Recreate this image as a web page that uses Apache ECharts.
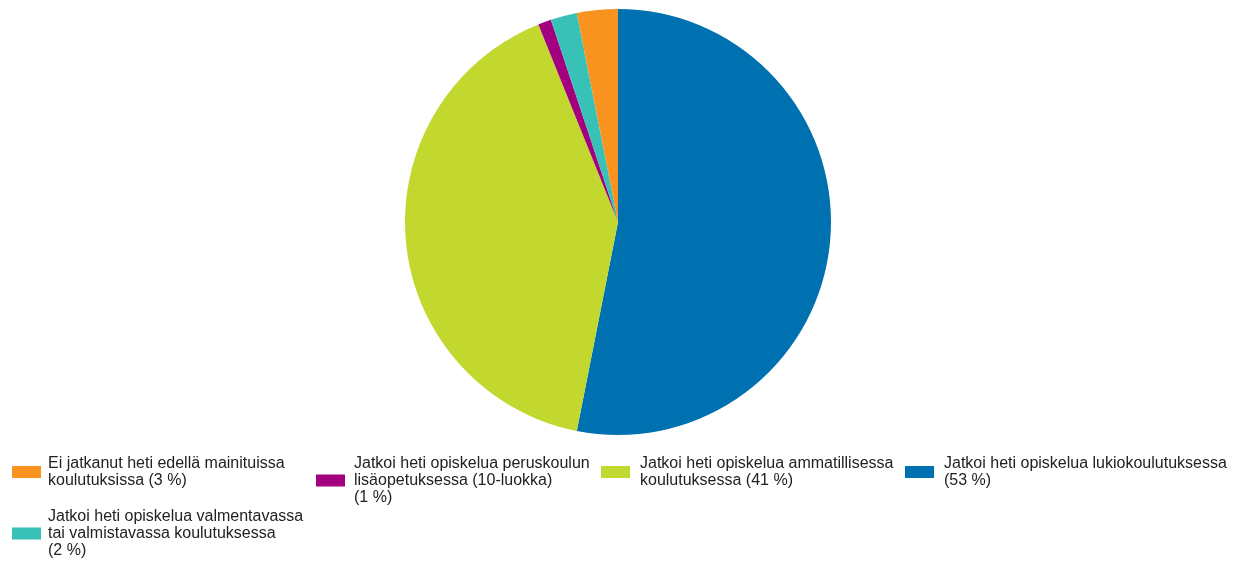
<!DOCTYPE html>
<html><head><meta charset="utf-8">
<script src="https://cdn.jsdelivr.net/npm/echarts@6/dist/echarts.min.js"></script>
<style>html,body{margin:0;padding:0;background:#fff}#c{width:1239px;height:561px}</style>
</head><body><div id="c"></div>
<script>
// Categories in pie order (clockwise from 12 o'clock)
const categories = [
  'Jatkoi heti opiskelua lukiokoulutuksessa',
  'Jatkoi heti opiskelua ammatillisessa koulutuksessa',
  'Jatkoi heti opiskelua peruskoulun lisäopetuksessa (10-luokka)',
  'Jatkoi heti opiskelua valmentavassa tai valmistavassa koulutuksessa',
  'Ei jatkanut heti edellä mainituissa koulutuksissa'
];
const values = [53.1, 40.8, 1.0, 2.0, 3.1];
const colors = ['#0071B0', '#C2D82F', '#A3007F', '#38C1B7', '#F7931E'];
// Legend labels (as displayed, with line breaks)
const legendLabels = [
  'Jatkoi heti opiskelua lukiokoulutuksessa\n(53 %)',
  'Jatkoi heti opiskelua ammatillisessa\nkoulutuksessa (41 %)',
  'Jatkoi heti opiskelua peruskoulun\nlisäopetuksessa (10-luokka)\n(1 %)',
  'Jatkoi heti opiskelua valmentavassa\ntai valmistavassa koulutuksessa\n(2 %)',
  'Ei jatkanut heti edellä mainituissa\nkoulutuksissa (3 %)'
];
// legend placement: [left, top, textPad] per category index
const legendPos = [[905, 455, 5], [601, 455, 5], [316, 455, 4], [12, 508, 2], [12, 455, 2]];

const chart = echarts.init(document.getElementById('c'));
const legends = categories.map((name, i) => ({
  data: [name],
  left: legendPos[i][0],
  top: legendPos[i][1],
  orient: 'vertical',
  padding: 0,
  itemWidth: 29,
  itemHeight: 12,
  itemGap: 0,
  icon: 'rect',
  selectedMode: false,
  formatter: () => legendLabels[i],
  textStyle: { fontFamily: 'Liberation Sans, Arial, sans-serif', fontSize: 16, color: '#222', lineHeight: 17, padding: [0, 0, 0, legendPos[i][2]] }
}));

chart.setOption({
  animation: false,
  color: colors,
  legend: legends,
  series: [{
    type: 'pie',
    center: [618, 222],
    radius: 213,
    startAngle: 90,
    clockwise: true,
    label: { show: false },
    labelLine: { show: false },
    emphasis: { disabled: true },
    itemStyle: { borderWidth: 0 },
    data: categories.map((n, i) => ({ name: n, value: values[i] }))
  }]
});
</script></body></html>
